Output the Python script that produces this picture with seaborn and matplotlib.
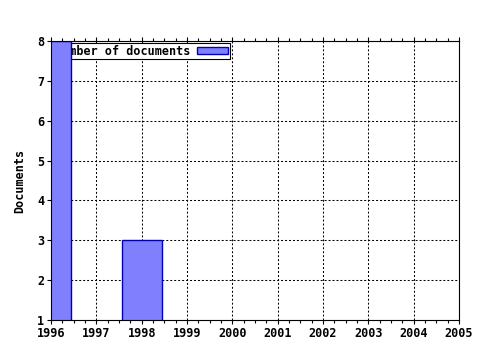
import matplotlib
matplotlib.use("Agg")
import matplotlib.pyplot as plt
from matplotlib.ticker import MultipleLocator
import seaborn as sns
import pandas as pd

years = [1996, 1997, 1998, 1999, 2000, 2001, 2002, 2003, 2004, 2005]
documents = [8, 0, 3, 0, 0, 0, 0, 0, 0, 0]
series_label = "Number of documents"
y_label = "Documents"

sns.set_theme(style="white")
plt.rcParams['font.family'] = ['DejaVu Sans Mono', 'DejaVu Sans']
plt.rcParams['font.weight'] = 'bold'
plt.rcParams['text.color'] = 'black'
plt.rcParams['axes.labelcolor'] = 'black'
plt.rcParams['xtick.color'] = 'black'
plt.rcParams['ytick.color'] = 'black'

df = pd.DataFrame({"year": years, "docs": documents})

fig = plt.figure(figsize=(4.8, 3.5), dpi=100)
ax = fig.add_axes([51/480, 1 - 320/350, 408/480, 279/350])
ax.set_axisbelow(True)

sns.barplot(data=df, x="year", y="docs", native_scale=True, width=0.88,
            color="#8080FF", saturation=1, edgecolor="#0000B0", linewidth=1,
            label=series_label, ax=ax, zorder=2)

ax.set_xlim(1996, 2005)
ax.set_ylim(1, 8)
ax.set_xticks(years, [str(y) for y in years])
ax.set_yticks(range(1, 9), [str(v) for v in range(1, 9)])
ax.xaxis.set_minor_locator(MultipleLocator(0.25))
ax.set_xlabel("")
ax.set_ylabel(y_label, fontsize=8.5, fontweight="bold", labelpad=8, color="black")

for s in ax.spines.values():
    s.set_color("black")
    s.set_linewidth(0.8)
    s.set_visible(True)

ax.tick_params(axis="x", which="both", top=True, bottom=True, direction="out",
               length=3, width=0.8, color="black", labelsize=8.5, pad=2,
               labelcolor="black")
ax.tick_params(axis="x", which="minor", length=2)
ax.tick_params(axis="y", which="both", left=True, right=False, direction="out",
               length=3, width=0.8, color="black", labelsize=8.5, pad=2,
               labelcolor="black")

ax.grid(True, which="major", color="black", linestyle=(0, (1.9, 1.9)), linewidth=0.75)

leg = ax.legend(loc="upper left", bbox_to_anchor=(0.005, 0.993), frameon=True,
                fancybox=False, edgecolor="black", framealpha=1,
                prop={"family": "DejaVu Sans Mono", "weight": "bold", "size": 8.5},
                markerfirst=False, handlelength=2.6, handleheight=0.6,
                handletextpad=0.6, borderpad=0.15, borderaxespad=0)
leg.get_frame().set_linewidth(0.8)
leg.set_zorder(1.5)
for t in leg.get_texts():
    t.set_color("black")

fig.savefig("out.png", dpi=100)
